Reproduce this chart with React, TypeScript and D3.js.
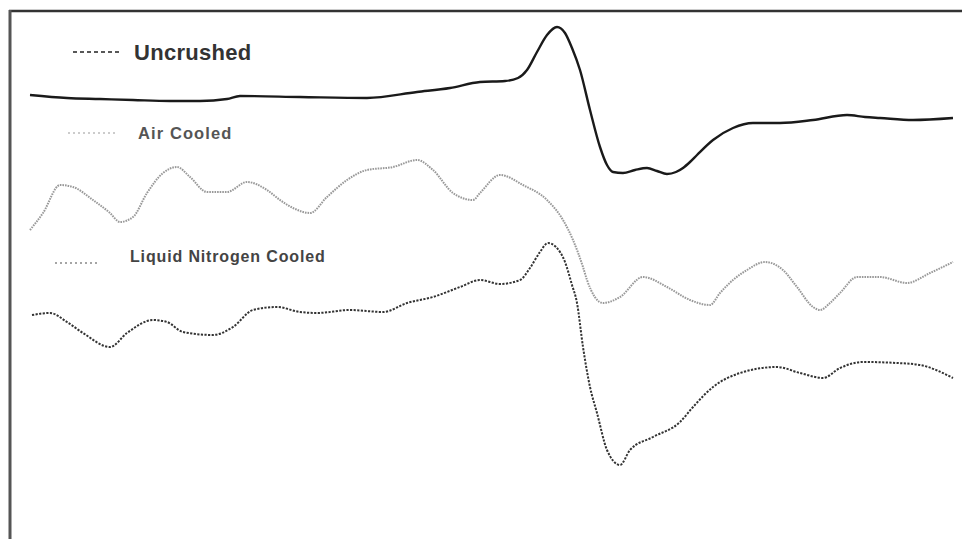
import React from "react";
import * as d3 from "d3";

// Arbitrary field units (x) and signal units (y)
const uncrushed: [number, number][] = [
  [0, 425], [37, 422], [70, 421], [103, 420], [140, 419], [170, 419], [197, 421], [210, 424],
  [270, 423], [337, 422], [387, 428], [420, 432], [450, 438], [475, 439], [488, 442], [497, 450],
  [507, 468], [517, 485], [527, 493], [535, 487], [542, 472], [550, 450], [560, 410], [570, 373],
  [577, 355], [583, 348], [593, 347], [605, 350], [617, 352], [627, 349], [637, 346], [646, 348],
  [653, 352], [660, 358], [667, 365], [683, 380], [703, 392], [723, 397], [750, 397], [783, 400],
  [817, 405], [835, 403], [850, 402], [883, 400], [923, 402],
];

const airCooled: [number, number][] = [
  [0, 290], [13, 307], [30, 335], [43, 333], [63, 320], [80, 307], [90, 298], [103, 303],
  [117, 327], [133, 347], [147, 353], [160, 343], [177, 328], [197, 328], [217, 338], [237, 330],
  [250, 320], [263, 312], [280, 307], [297, 323], [317, 340], [337, 350], [363, 353], [387, 360],
  [403, 350], [423, 327], [443, 320], [450, 327], [470, 345], [493, 335], [517, 320], [533, 300],
  [543, 280], [553, 253], [557, 240], [573, 217], [590, 223], [613, 243], [637, 233], [660, 220],
  [680, 215], [690, 227], [703, 240], [717, 250], [735, 258], [753, 250], [767, 233], [783, 213],
  [790, 210], [800, 217], [810, 227], [827, 243], [850, 243], [877, 237], [900, 247], [923, 258],
];

const liquidNitrogen: [number, number][] = [
  [2, 205], [20, 207], [37, 198], [53, 187], [80, 173], [97, 187], [123, 200], [137, 198],
  [153, 188], [183, 185], [203, 193], [223, 210], [247, 213], [270, 208], [287, 207], [320, 210],
  [353, 208], [377, 217], [403, 223], [430, 233], [450, 240], [470, 236], [490, 240], [500, 252],
  [510, 268], [518, 277], [526, 273], [535, 258], [542, 235], [547, 217], [553, 173], [560, 133],
  [567, 107], [577, 70], [590, 55], [600, 70], [623, 83], [650, 98], [663, 113], [683, 133],
  [710, 147], [747, 153], [770, 147], [793, 142], [810, 152], [833, 158], [867, 157], [890, 155],
  [923, 142],
];

const legendLabels = ["Uncrushed", "Air Cooled", "Liquid Nitrogen Cooled"];

export default function App() {
  const W = 962;
  const H = 539;
  const x = d3.scaleLinear().domain([0, 925]).range([30, 955]);
  const y = d3.scaleLinear().domain([0, 500]).range([520, 20]);
  const line = d3
    .line<[number, number]>()
    .x((d) => x(d[0]))
    .y((d) => y(d[1]))
    .curve(d3.curveMonotoneX);

  const font = "'Liberation Sans', Arial, sans-serif";

  return (
    <svg
      width={W}
      height={H}
      style={{ position: "absolute", left: 0, top: 0, background: "#fff" }}
    >
      <rect x={0} y={0} width={W} height={H} fill="#fff" />
      {/* frame */}
      <line x1={9} y1={11} x2={W} y2={11} stroke="#333" strokeWidth={2.5} />
      <line x1={10} y1={10} x2={10} y2={H} stroke="#555" strokeWidth={3} />

      {/* curves */}
      <path d={line(uncrushed) || ""} fill="none" stroke="#1a1a1a" strokeWidth={2.4} />
      <path
        d={line(airCooled) || ""}
        fill="none"
        stroke="#999"
        strokeWidth={2}
        strokeDasharray="1.6 1"
      />
      <path
        d={line(liquidNitrogen) || ""}
        fill="none"
        stroke="#333"
        strokeWidth={2}
        strokeDasharray="2.2 1.4"
      />

      {/* legend */}
      <line x1={73} y1={52} x2={122} y2={52} stroke="#222" strokeWidth={1.6} strokeDasharray="4 3" />
      <text x={134} y={60} fontFamily={font} fontWeight="bold" fontSize={22} fill="#333" letterSpacing={0.3}>
        {legendLabels[0]}
      </text>

      <line x1={68} y1={133} x2={115} y2={133} stroke="#999" strokeWidth={1.2} strokeDasharray="2 3" />
      <text x={138} y={139} fontFamily={font} fontWeight="bold" fontSize={16.5} fill="#555" letterSpacing={1.1}>
        {legendLabels[1]}
      </text>

      <line x1={55} y1={263} x2={100} y2={263} stroke="#888" strokeWidth={1.4} strokeDasharray="2 3" />
      <text x={130} y={262} fontFamily={font} fontWeight="bold" fontSize={16} fill="#444" letterSpacing={0.85}>
        {legendLabels[2]}
      </text>
    </svg>
  );
}
